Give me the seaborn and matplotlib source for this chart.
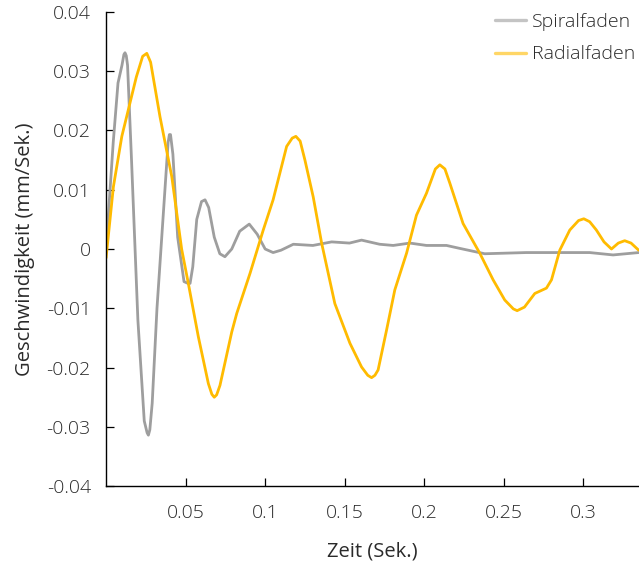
import numpy as np
import pandas as pd
import matplotlib
matplotlib.use("Agg")
import matplotlib.pyplot as plt
import seaborn as sns

# Spiralfaden (gray)
t_spiral = [0.0, 0.0045, 0.0075, 0.0100, 0.0112, 0.0119, 0.0127, 0.0135, 0.0160, 0.0200,
            0.0240, 0.0258, 0.0266, 0.0275, 0.0290, 0.0320, 0.0355, 0.0375, 0.0390, 0.0398,
            0.0405, 0.0420, 0.0450, 0.0490, 0.0515, 0.0528, 0.0545, 0.0570, 0.0600, 0.0622,
            0.0645, 0.0680, 0.0715, 0.0747, 0.0790, 0.0840, 0.0900, 0.0950, 0.1000, 0.1050,
            0.1100, 0.1177, 0.1300, 0.1418, 0.1530, 0.1606, 0.1720, 0.1805, 0.1910, 0.2014,
            0.2140, 0.2224, 0.2380, 0.2640, 0.3040, 0.3187, 0.3348]
v_spiral = [0.0, 0.0180, 0.0280, 0.0310, 0.0328, 0.0331, 0.0326, 0.0310, 0.0150, -0.0120,
            -0.0290, -0.0310, -0.0314, -0.0305, -0.0260, -0.0100, 0.0040, 0.0120, 0.0180, 0.0193,
            0.0193, 0.0160, 0.0020, -0.0055, -0.0058, -0.0058, -0.0030, 0.0050, 0.0080, 0.0083,
            0.0070, 0.0020, -0.0008, -0.0013, 0.0000, 0.0030, 0.0042, 0.0025, 0.0000, -0.0006,
            -0.0002, 0.0008, 0.0006, 0.0012, 0.0010, 0.0015, 0.0008, 0.0006, 0.0010, 0.0006,
            0.0006, 0.0001, -0.0008, -0.0006, -0.0006, -0.0010, -0.0006]

# Radialfaden (yellow)
t_radial = [0.0, 0.0046, 0.0099, 0.0140, 0.0190, 0.0230, 0.0256, 0.0280, 0.0339, 0.0413,
            0.0475, 0.0517, 0.0580, 0.0643, 0.0665, 0.0680, 0.0695, 0.0716, 0.0790, 0.0821,
            0.0905, 0.0988, 0.1050, 0.1135, 0.1170, 0.1193, 0.1220, 0.1250, 0.1302, 0.1355,
            0.1438, 0.1533, 0.1606, 0.1645, 0.1669, 0.1690, 0.1710, 0.1763, 0.1815, 0.1889,
            0.1951, 0.2014, 0.2070, 0.2098, 0.2130, 0.2161, 0.2244, 0.2349, 0.2433, 0.2506,
            0.2560, 0.2584, 0.2630, 0.2695, 0.2768, 0.2800, 0.2852, 0.2915, 0.2970, 0.3003,
            0.3040, 0.3082, 0.3130, 0.3177, 0.3220, 0.3260, 0.3300, 0.3348]
v_radial = [-0.0015, 0.0105, 0.0190, 0.0235, 0.0290, 0.0325, 0.0330, 0.0315, 0.0223, 0.0122,
            0.0000, -0.0058, -0.0148, -0.0227, -0.0245, -0.0250, -0.0246, -0.0230, -0.0140, -0.0109,
            -0.0041, 0.0032, 0.0083, 0.0173, 0.0187, 0.0190, 0.0182, 0.0150, 0.0088, 0.0010,
            -0.0092, -0.0159, -0.0199, -0.0213, -0.0217, -0.0213, -0.0204, -0.0137, -0.0069, -0.0007,
            0.0057, 0.0094, 0.0135, 0.0142, 0.0135, 0.0111, 0.0043, -0.0007, -0.0052, -0.0086,
            -0.0101, -0.0104, -0.0098, -0.0075, -0.0066, -0.0052, -0.0002, 0.0032, 0.0048, 0.0051,
            0.0046, 0.0032, 0.0012, 0.0000, 0.0010, 0.0014, 0.0010, -0.0002]

y_ticks = [-0.04, -0.03, -0.02, -0.01, 0, 0.01, 0.02, 0.03, 0.04]
x_ticks = [0.05, 0.1, 0.15, 0.2, 0.25, 0.3]

df = pd.concat([
    pd.DataFrame({"Zeit": t_spiral, "v": v_spiral, "Faden": "Spiralfaden"}),
    pd.DataFrame({"Zeit": t_radial, "v": v_radial, "Faden": "Radialfaden"}),
])

sns.set_style("ticks")
plt.rcParams["font.family"] = ["Open Sans", "DejaVu Sans"]
plt.rcParams["font.weight"] = "light"
txt = "#2a2a2a"

fig = plt.figure(figsize=(6.39, 5.64), dpi=100)
ax = fig.add_axes([0.166, 0.138, 0.834, 0.841])

palette = {"Spiralfaden": "#9e9e9e", "Radialfaden": "#ffbb00"}
sns.lineplot(data=df, x="Zeit", y="v", hue="Faden", palette=palette, sort=False,
             estimator=None, linewidth=2.0, ax=ax)
for line in ax.lines:
    line.set_solid_joinstyle("round")
    line.set_solid_capstyle("round")

ax.set_xlim(0, 0.335)
ax.set_ylim(-0.04, 0.04)
ax.set_xticks(x_ticks)
ax.set_xticklabels([f"{x:g}" for x in x_ticks])
ax.set_yticks(y_ticks)
ax.set_yticklabels([f"{y:g}" for y in y_ticks])
ax.tick_params(direction="in", length=6, width=0.9, colors="black", labelcolor=txt,
               labelsize=14)
ax.tick_params(axis="x", pad=13)
ax.tick_params(axis="y", pad=11)
sns.despine(ax=ax)
for s in ["left", "bottom"]:
    ax.spines[s].set_linewidth(1.0)
    ax.spines[s].set_color("black")

ax.set_xlabel("Zeit (Sek.)", fontsize=14.5, color=txt, labelpad=14)
ax.set_ylabel("Geschwindigkeit (mm/Sek.)", fontsize=14.5, color=txt, labelpad=8)

leg = ax.legend(loc="upper right", bbox_to_anchor=(1.025, 1.035), frameon=False,
                fontsize=14, handlelength=1.6, handletextpad=0.3, labelspacing=0.75,
                labelcolor=txt)
for h in leg.get_lines():
    h.set_alpha(0.6)
    h.set_linewidth(2.4)

fig.savefig("out.png", dpi=100)
